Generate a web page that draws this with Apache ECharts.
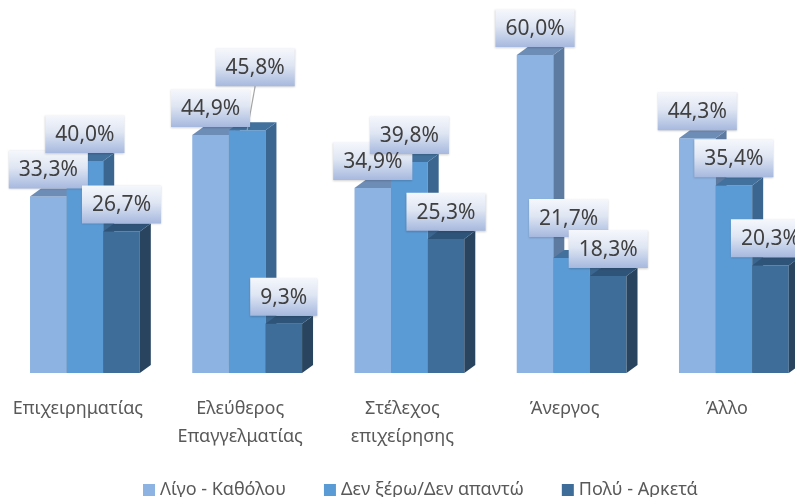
<!DOCTYPE html>
<html>
<head>
<meta charset="utf-8">
<script src="https://cdn.jsdelivr.net/npm/echarts@6/dist/echarts.min.js"></script>
<style>
  html, body { margin: 0; padding: 0; background: #ffffff; }
  #chart { width: 795px; height: 497px; }
</style>
</head>
<body>
<div id="chart"></div>
<script>
// ---- Data ----
const categories = ['Επιχειρηματίας', 'Ελεύθερος\nΕπαγγελματίας', 'Στέλεχος\nεπιχείρησης', 'Άνεργος', 'Άλλο'];
const seriesNames = ['Λίγο - Καθόλου', 'Δεν ξέρω/Δεν απαντώ', 'Πολύ - Αρκετά'];
const littleNone = [33.3, 44.9, 34.9, 60.0, 44.3];
const dontKnow = [40.0, 45.8, 39.8, 21.7, 35.4];
const muchQuite = [26.7, 9.3, 25.3, 18.3, 20.3];
const seriesValues = [littleNone, dontKnow, muchQuite];

// ---- Styles ----
const faceColors = [
  { front: '#8db3e2', top: '#6e8db6', side: '#5d7ba1' },
  { front: '#5b9bd5', top: '#42719d', side: '#3b6690' },
  { front: '#3f6d99', top: '#2f5479', side: '#28445f' }
];
const FONT = '"Noto Sans", "DejaVu Sans", sans-serif';
const labelFont = '21px ' + FONT;
// manual label nudges (series index -> category index -> offset)
const labelNudges = { '1-1': { dx: 8, dy: -36, leader: true }, '1-3': { dx: -3, dy: -13 } };

const measureCtx = document.createElement('canvas').getContext('2d');
function textWidth(s) { measureCtx.font = labelFont; return measureCtx.measureText(s).width; }
function fmt(v) { return v.toFixed(1).replace('.', ',') + '%'; }

function makeRender(si) {
  return function (params, api) {
    const ci = api.value(0);
    const v = api.value(1);
    const pt = api.coord([ci, v]);
    const base = api.coord([ci, 0]);
    const band = api.size([1, 0])[0];
    const bw = band * 0.2256;
    const dx = bw * 0.30;
    const dy = bw * 0.22;
    const x0 = pt[0] - 1.5 * bw + si * bw;
    const yt = pt[1];
    const yb = base[1];
    const c = faceColors[si];
    const z = si + 1;
    const children = [
      { type: 'rect', z2: z, shape: { x: x0, y: yt, width: bw, height: yb - yt }, style: { fill: c.front } },
      { type: 'polygon', z2: z, shape: { points: [[x0 + bw, yt], [x0 + bw + dx, yt - dy], [x0 + bw + dx, yb - dy], [x0 + bw, yb]] }, style: { fill: c.side } },
      { type: 'polygon', z2: z, shape: { points: [[x0, yt], [x0 + dx, yt - dy], [x0 + bw + dx, yt - dy], [x0 + bw, yt]] }, style: { fill: c.top } }
    ];
    const txt = fmt(v);
    const nud = labelNudges[si + '-' + ci] || { dx: 0, dy: 0 };
    const cx = x0 + bw / 2 + nud.dx;
    const bottom = yt - dy + nud.dy;
    const h = 38;
    const w = textWidth(txt) + 20;
    if (nud.leader) {
      children.push({ type: 'line', z2: 50, shape: { x1: cx, y1: bottom, x2: x0 + bw / 2, y2: yt }, style: { stroke: '#a6a6a6', lineWidth: 1.2 } });
    }
    children.push({
      type: 'rect', z2: 100,
      shape: { x: cx - w / 2, y: bottom - h, width: w, height: h },
      style: {
        fill: { type: 'linear', x: 0, y: 0, x2: 0, y2: 1, colorStops: [
          { offset: 0, color: '#f5f7fc' }, { offset: 0.45, color: '#dfe6f3' }, { offset: 1, color: '#a6b8de' }
        ] },
        shadowBlur: 2, shadowColor: 'rgba(0,0,0,0.18)', shadowOffsetY: 1
      }
    });
    children.push({
      type: 'text', z2: 101,
      style: { text: txt, x: cx, y: bottom - h / 2 + 1, align: 'center', verticalAlign: 'middle', font: labelFont, fill: '#404040' }
    });
    return { type: 'group', children: children };
  };
}

const chart = echarts.init(document.getElementById('chart'), null, { renderer: 'canvas' });
const option = {
  animation: false,
  backgroundColor: '#ffffff',
  color: faceColors.map(c => c.front),
  grid: { left: 3.8, right: -20, top: 28.5, bottom: 124, outerBoundsMode: 'none', containLabel: false },
  legend: {
    data: seriesNames,
    left: 138, top: 476,
    icon: 'rect', itemWidth: 12, itemHeight: 12, itemGap: 38,
    textStyle: { fontFamily: FONT, fontSize: 18, color: '#595959' }
  },
  xAxis: {
    type: 'category', data: categories,
    axisLine: { show: false }, axisTick: { show: false }, splitLine: { show: false },
    axisLabel: { interval: 0, margin: 22, fontFamily: FONT, fontSize: 18, color: '#595959', lineHeight: 28, padding: [0, 14, 0, 0] }
  },
  yAxis: { type: 'value', min: 0, max: 65, show: false, splitLine: { show: false } },
  series: seriesValues.map((vals, si) => ({
    type: 'custom',
    name: seriesNames[si],
    itemStyle: { color: faceColors[si].front },
    renderItem: makeRender(si),
    encode: { x: 0, y: 1 },
    data: vals.map((v, i) => [i, v])
  }))
};
chart.setOption(option);
</script>
</body>
</html>
